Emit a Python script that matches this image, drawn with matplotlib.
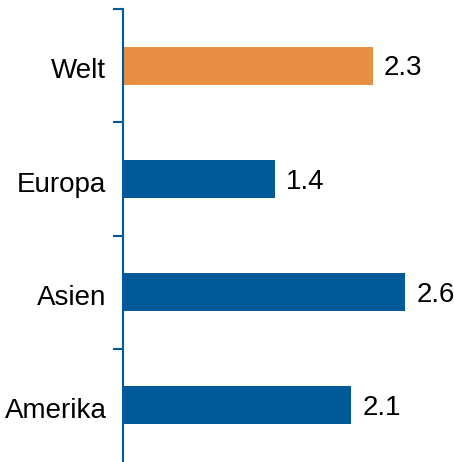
import matplotlib
matplotlib.use("Agg")
import matplotlib.pyplot as plt
from matplotlib.ticker import FixedLocator
from matplotlib.transforms import ScaledTranslation

categories = ["Welt", "Europa", "Asien", "Amerika"]
values = [2.3, 1.4, 2.6, 2.1]
colors = ["#E68E41", "#005A9A", "#005A9A", "#005A9A"]
axis_color = "#005A9A"

plt.rcParams['font.family'] = ['Liberation Sans', 'DejaVu Sans']

fig = plt.figure(figsize=(4.54, 4.62), dpi=100)
ax = fig.add_axes([123 / 454, 0, 331 / 454, (462 - 9) / 462])

pos = list(range(len(categories)))
ax.barh(pos, values, height=0.335, color=colors, zorder=2)

for p, v in zip(pos, values):
    ax.annotate(f"{v:.1f}", xy=(v, p), xytext=(8, -2), textcoords="offset points",
                va="center", ha="left", fontsize=20, color="black",
                annotation_clip=False)

ax.set_xlim(0, 331 / 108.6)
ax.set_ylim(len(categories) - 0.5, -0.5)

ax.yaxis.set_major_locator(FixedLocator([i - 0.5 for i in range(len(categories))]))
ax.yaxis.set_minor_locator(FixedLocator(pos))
ax.set_yticklabels([], minor=False)
ax.set_yticklabels(categories, minor=True, fontsize=20)
ax.tick_params(axis="y", which="major", length=7, width=1.5, color=axis_color, direction="out")
ax.tick_params(axis="y", which="minor", length=0, pad=12)
offset = ScaledTranslation(0, -2 / 72, fig.dpi_scale_trans)
for lab in ax.get_yticklabels(minor=True):
    lab.set_transform(lab.get_transform() + offset)

ax.set_xticks([])
for s in ["top", "right", "bottom"]:
    ax.spines[s].set_visible(False)
ax.spines["left"].set_color(axis_color)
ax.spines["left"].set_linewidth(1.5)
ax.spines["left"].set_zorder(3)

fig.savefig("out.png", dpi=100)
